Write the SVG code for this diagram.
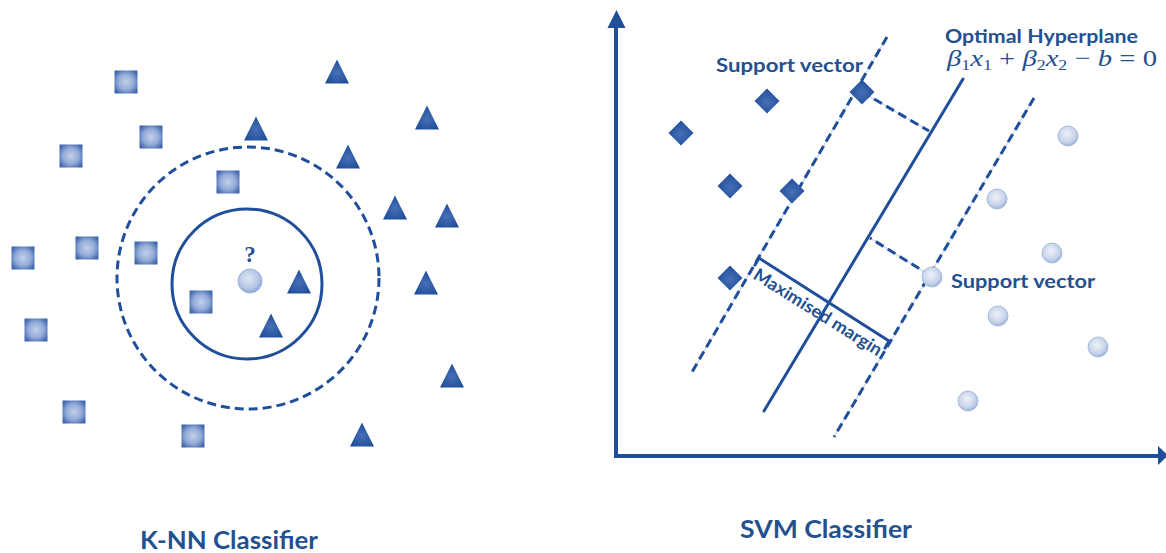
<svg xmlns="http://www.w3.org/2000/svg" xmlns:xlink="http://www.w3.org/1999/xlink" width="1166" height="553" viewBox="0 0 1166 553">
  <style>
    .label { font-family: Lato, "Open Sans", "Liberation Sans", sans-serif; font-weight: 700; fill: #23508f; }
    .math { font-family: "Liberation Serif", "DejaVu Serif", serif; fill: #23508f; }
    .solid { fill: none; stroke: #1f4e9a; stroke-width: 3; stroke-linecap: round; }
    .dash { fill: none; stroke: #1f4e9a; stroke-width: 3; stroke-dasharray: 9 5; }
    .faint { fill: none; stroke: #c9d6ec; stroke-width: 1.2; }
    .axis { fill: none; stroke: #1f4e9a; stroke-width: 4; }
    .head { fill: #1f4e9a; }
  </style>
  <defs>
    <radialGradient id="gSquare" cx="50%" cy="50%" r="62%">
      <stop offset="0" stop-color="#c3d0ea"/>
      <stop offset="0.55" stop-color="#93abd8"/>
      <stop offset="1" stop-color="#3a63ab"/>
    </radialGradient>
    <radialGradient id="gDark" cx="50%" cy="55%" r="60%">
      <stop offset="0" stop-color="#4670b6"/>
      <stop offset="1" stop-color="#1d4b98"/>
    </radialGradient>
    <radialGradient id="gLight" cx="45%" cy="40%" r="60%">
      <stop offset="0" stop-color="#eef2f9"/>
      <stop offset="0.7" stop-color="#c7d3ea"/>
      <stop offset="1" stop-color="#9fb4da"/>
    </radialGradient>
    <radialGradient id="gQuery" cx="45%" cy="40%" r="60%">
      <stop offset="0" stop-color="#dfe7f4"/>
      <stop offset="0.7" stop-color="#b3c5e5"/>
      <stop offset="1" stop-color="#8aa4d3"/>
    </radialGradient>
    <rect id="sq" x="-11.5" y="-11.5" width="23" height="23" fill="url(#gSquare)"/>
    <polygon id="tri" points="0,-12.5 12,11.5 -12,11.5" fill="url(#gDark)"/>
    <polygon id="dia" points="0,-12.5 12.5,0 0,12.5 -12.5,0" fill="url(#gDark)"/>
    <circle id="dot" r="10" fill="url(#gLight)" stroke="#a9bcdd" stroke-width="1"/>
  </defs>

  <rect width="1166" height="553" fill="#ffffff"/>

  <!-- boundaries, axes and hyperplane lines -->
  <g id="connectors">
    <circle class="dash" cx="248" cy="278" r="131"/>
    <circle class="solid" cx="247" cy="284" r="75"/>

    <!-- axes with arrowheads -->
    <line class="axis" x1="616" y1="458" x2="616" y2="24"/>
    <polygon class="head" points="616.5,10 607.5,28 625.5,28"/>
    <line class="axis" x1="614" y1="456" x2="1160" y2="456"/>
    <polygon class="head" points="1168,455.5 1158,446 1158,465"/>

    <!-- margin boundaries -->
    <line class="faint" x1="887" y1="37" x2="692" y2="372"/>
    <line class="dash" x1="887" y1="37" x2="692" y2="372"/>
    <line class="faint" x1="1034" y1="98" x2="834" y2="437"/>
    <line class="dash" x1="1034" y1="98" x2="834" y2="437"/>

    <!-- optimal hyperplane -->
    <line class="solid" x1="963" y1="79" x2="764" y2="411"/>

    <!-- distances from support vectors -->
    <line class="faint" x1="862" y1="92" x2="929" y2="131"/>
    <line class="dash" x1="862" y1="92" x2="929" y2="131"/>
    <line class="faint" x1="931" y1="276" x2="870" y2="238"/>
    <line class="dash" x1="931" y1="276" x2="870" y2="238"/>

    <!-- maximised margin -->
    <polyline class="solid" points="755,265 759,258 889,341 885,348"/>
  </g>

  <!-- K-NN classifier -->
  <g id="knn-query">
    <circle cx="250" cy="281" r="12" fill="url(#gQuery)" stroke="#9fb4da" stroke-width="1"/>
    <text x="250" y="262" text-anchor="middle" font-family="Liberation Serif, serif" font-weight="700" font-size="23" fill="#2a4f8f">?</text>
  </g>
  <g id="knn-sq-1"><use href="#sq" x="126" y="82"/></g>
  <g id="knn-sq-2"><use href="#sq" x="151" y="137"/></g>
  <g id="knn-sq-3"><use href="#sq" x="71" y="156"/></g>
  <g id="knn-sq-4"><use href="#sq" x="228" y="182"/></g>
  <g id="knn-sq-5"><use href="#sq" x="87" y="248"/></g>
  <g id="knn-sq-6"><use href="#sq" x="146" y="253"/></g>
  <g id="knn-sq-7"><use href="#sq" x="23" y="258"/></g>
  <g id="knn-sq-8"><use href="#sq" x="201" y="302"/></g>
  <g id="knn-sq-9"><use href="#sq" x="36" y="330"/></g>
  <g id="knn-sq-10"><use href="#sq" x="74" y="412"/></g>
  <g id="knn-sq-11"><use href="#sq" x="193" y="436"/></g>

  <g id="knn-tri-1"><use href="#tri" x="337" y="72"/></g>
  <g id="knn-tri-2"><use href="#tri" x="427" y="118"/></g>
  <g id="knn-tri-3"><use href="#tri" x="256" y="129"/></g>
  <g id="knn-tri-4"><use href="#tri" x="348" y="157"/></g>
  <g id="knn-tri-5"><use href="#tri" x="395" y="208"/></g>
  <g id="knn-tri-6"><use href="#tri" x="447" y="216"/></g>
  <g id="knn-tri-7"><use href="#tri" x="299" y="282"/></g>
  <g id="knn-tri-8"><use href="#tri" x="426" y="283"/></g>
  <g id="knn-tri-9"><use href="#tri" x="271" y="326"/></g>
  <g id="knn-tri-10"><use href="#tri" x="452" y="376"/></g>
  <g id="knn-tri-11"><use href="#tri" x="362" y="435"/></g>

  <g id="knn-title">
    <text class="label" x="140" y="549" font-size="24" textLength="178" lengthAdjust="spacingAndGlyphs">K-NN Classifier</text>
  </g>

  <!-- SVM classifier -->
  <g id="svm-dia-1"><use href="#dia" x="681" y="133"/></g>
  <g id="svm-dia-2"><use href="#dia" x="767" y="101"/></g>
  <g id="svm-dia-3"><use href="#dia" x="862" y="92"/></g>
  <g id="svm-dia-4"><use href="#dia" x="730" y="186"/></g>
  <g id="svm-dia-5"><use href="#dia" x="792" y="191"/></g>
  <g id="svm-dia-6"><use href="#dia" x="730" y="278"/></g>

  <g id="svm-dot-1"><use href="#dot" x="1068" y="136"/></g>
  <g id="svm-dot-2"><use href="#dot" x="997" y="199"/></g>
  <g id="svm-dot-3"><use href="#dot" x="1052" y="253"/></g>
  <g id="svm-dot-4"><use href="#dot" x="932" y="277"/></g>
  <g id="svm-dot-5"><use href="#dot" x="998" y="316"/></g>
  <g id="svm-dot-6"><use href="#dot" x="1098" y="347"/></g>
  <g id="svm-dot-7"><use href="#dot" x="968" y="401"/></g>

  <g id="svm-labels">
    <text class="label" x="716" y="72" font-size="19" textLength="147" lengthAdjust="spacingAndGlyphs">Support vector</text>
    <text class="label" x="951" y="288" font-size="19" textLength="144" lengthAdjust="spacingAndGlyphs">Support vector</text>
    <text class="label" x="945" y="43" font-size="19" textLength="193" lengthAdjust="spacingAndGlyphs">Optimal Hyperplane</text>
    <text class="math" x="947" y="66" font-size="24" textLength="210" lengthAdjust="spacingAndGlyphs"><tspan font-style="italic">β</tspan><tspan font-size="15" dy="4">1</tspan><tspan font-style="italic" dy="-4">x</tspan><tspan font-size="15" dy="4">1</tspan><tspan dy="-4"> + </tspan><tspan font-style="italic">β</tspan><tspan font-size="15" dy="4">2</tspan><tspan font-style="italic" dy="-4">x</tspan><tspan font-size="15" dy="4">2</tspan><tspan dy="-4"> − </tspan><tspan font-style="italic">b</tspan><tspan> = 0</tspan></text>
    <text class="label" font-size="17.5" transform="translate(752,278) rotate(32)" textLength="148" lengthAdjust="spacingAndGlyphs">Maximised margin</text>
  </g>

  <g id="svm-title">
    <text class="label" x="740" y="538" font-size="24" textLength="172" lengthAdjust="spacingAndGlyphs">SVM Classifier</text>
  </g>
</svg>
